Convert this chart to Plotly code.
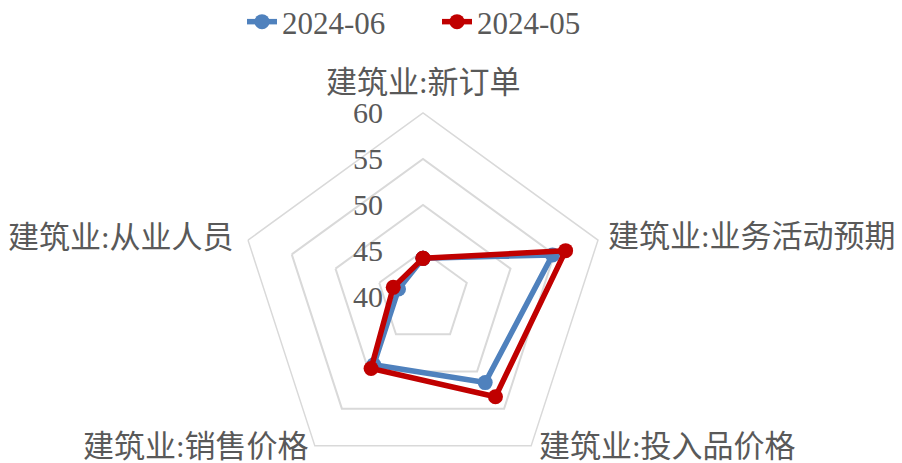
import plotly.graph_objects as go

categories = ["建筑业:新订单", "建筑业:业务活动预期", "建筑业:投入品价格", "建筑业:销售价格", "建筑业:从业人员"]
jun_2024 = [44.2, 54.8, 51.5, 49.1, 42.8]
may_2024 = [44.2, 56.3, 53.4, 49.6, 43.4]
tick_vals = [40, 45, 50, 55, 60]

W, H = 902, 500
cx, cy, R = 423, 297, 184

def closed(v):
    return list(v) + [v[0]]

fig = go.Figure()
fig.add_trace(go.Scatterpolar(
    r=closed(jun_2024), theta=closed(categories), name="2024-06",
    mode="lines+markers", line=dict(color="#4F81BD", width=5.5),
    marker=dict(size=15, color="#4F81BD")))
fig.add_trace(go.Scatterpolar(
    r=closed(may_2024), theta=closed(categories), name="2024-05",
    mode="lines+markers", line=dict(color="#C00000", width=5.5),
    marker=dict(size=15, color="#C00000")))

font_fam = "Liberation Serif, Noto Sans CJK SC, serif"

# category label placement (pixel anchors)
label_pos = [
    (423, 82, "center"),
    (607, 236, "left"),
    (538, 446, "left"),
    (310, 446, "right"),
    (235, 237, "right"),
]
annotations = []
for name, (px, py, xa) in zip(categories, label_pos):
    annotations.append(dict(
        text=name, x=px / W, y=1 - py / H, xref="paper", yref="paper",
        xanchor=xa, yanchor="middle", showarrow=False, borderpad=0,
        font=dict(size=31, color="#595959", family=font_fam)))

fig.update_layout(
    width=W, height=H,
    margin=dict(l=0, r=0, t=0, b=0, autoexpand=False),
    paper_bgcolor="white", plot_bgcolor="white",
    font=dict(family=font_fam, color="#595959"),
    showlegend=True,
    legend=dict(orientation="h", x=242 / W, xanchor="left", y=1 + 5 / H, yanchor="top",
                font=dict(size=31, color="#595959"), entrywidth=150, entrywidthmode="pixels",
                traceorder="normal"),
    annotations=annotations,
    polar=dict(
        domain=dict(x=[(cx - R) / W, (cx + R) / W], y=[(H - cy - R) / H, (H - cy + R) / H]),
        bgcolor="white",
        gridshape="linear",
        radialaxis=dict(range=[40, 60], tickvals=tick_vals, showline=False,
                        ticks="outside", ticklen=29, tickcolor="rgba(0,0,0,0)",
                        gridcolor="#d9d9d9", gridwidth=1.5, angle=90, side="counterclockwise",
                        tickangle=90, tickfont=dict(size=30, color="#595959")),
        angularaxis=dict(rotation=90, direction="clockwise", showgrid=False,
                         linecolor="#d9d9d9", linewidth=1.5, ticks="", showticklabels=False),
    ),
)

fig.write_html("out.html", config={"displayModeBar": False},
               post_script="document.documentElement.style.overflow='hidden';document.body.style.overflow='hidden';document.body.style.margin='0';")
